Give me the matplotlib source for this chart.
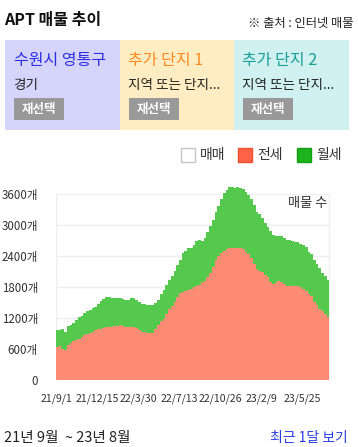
import matplotlib
matplotlib.use("Agg")
import matplotlib.pyplot as plt
import matplotlib.dates as mdates
from matplotlib.patches import Rectangle
import numpy as np
import pandas as pd

plt.rcParams['font.family'] = ['Noto Sans CJK KR', 'DejaVu Sans']

# ---- data ----
start_date = "2021-09-01"
n_weeks = 101
# 전세 (jeonse) listing counts, weekly
jeonse = [640, 650, 610, 590, 680, 720, 750, 780, 800, 830,
          880, 890, 905, 930, 960, 980, 995, 1010, 1020, 1020,
          1025, 1040, 1055, 1060, 1050, 1035, 1020, 1030, 1020, 1000,
          970, 940, 930, 920, 910, 920, 990, 1070, 1140, 1190,
          1280, 1370, 1430, 1520, 1600, 1680, 1700, 1720, 1750, 1760,
          1810, 1820, 1850, 1900, 1920, 2000, 2080, 2200, 2330, 2400,
          2460, 2500, 2540, 2560, 2560, 2560, 2550, 2550, 2530, 2490,
          2440, 2360, 2250, 2160, 2120, 2100, 2040, 2000, 1900, 1870,
          1880, 1910, 1900, 1860, 1830, 1820, 1825, 1820, 1815, 1800,
          1770, 1730, 1660, 1620, 1520, 1460, 1380, 1340, 1280, 1230,
          1210]
# 전세 + 월세 stacked total, weekly
total = [960, 970, 990, 930, 1040, 1070, 1100, 1170, 1220, 1240,
         1300, 1340, 1360, 1390, 1420, 1480, 1540, 1570, 1600, 1610,
         1590, 1585, 1580, 1590, 1570, 1555, 1560, 1580, 1585, 1560,
         1520, 1475, 1470, 1460, 1450, 1460, 1500, 1560, 1660, 1740,
         1850, 1930, 2020, 2120, 2230, 2330, 2470, 2510, 2550, 2560,
         2620, 2700, 2720, 2700, 2750, 2860, 2980, 3100, 3250, 3380,
         3500, 3620, 3690, 3740, 3750, 3730, 3750, 3730, 3700, 3640,
         3590, 3500, 3400, 3260, 3210, 3140, 3050, 2960, 2880, 2810,
         2790, 2800, 2790, 2760, 2720, 2710, 2690, 2680, 2670, 2640,
         2620, 2580, 2490, 2450, 2330, 2240, 2170, 2080, 2020, 1930,
         1880]
wolse = [t - j for t, j in zip(total, jeonse)]
maemae = [0] * n_weeks

y_ticks = [0, 600, 1200, 1800, 2400, 3000, 3600]
y_labels = ["0", "600개", "1200개", "1800개", "2400개", "3000개", "3600개"]
x_tick_dates = ["2021-09-01", "2021-12-15", "2022-03-30", "2022-07-13",
                "2022-10-26", "2023-02-09", "2023-05-25"]
x_tick_labels = ["21/9/1", "21/12/15", "22/3/30", "22/7/13",
                 "22/10/26", "23/2/9", "23/5/25"]
x_end = "2023-08-01"

panels = [
    ("수원시 영통구", "경기", "#2d2de0", "#d5d5fb"),
    ("추가 단지 1", "지역 또는 단지...", "#ff8a1e", "#feedc2"),
    ("추가 단지 2", "지역 또는 단지...", "#159e9a", "#d0f1ef"),
]
legend_items = [("매매", "#ffffff", "#c4c4cc"),
                ("전세", "#ff6347", "#f05030"),
                ("월세", "#1db31d", "#12a012")]

# ---- figure ----
W, H = 358, 447
fig = plt.figure(figsize=(W / 100, H / 100), dpi=100)
fig.patch.set_facecolor("white")

def fx(px):
    return px / W

def fy(py):
    return 1 - py / H

# title
fig.text(fx(4), fy(20), "APT 매물 추이", fontsize=11.5, fontweight="bold",
         color="#111111", va="center", ha="left")
fig.text(fx(353), fy(24), "※ 출처 : 인터넷 매물", fontsize=8.8,
         color="#222222", va="center", ha="right")

# panels
px0 = [5, 120, 234]
pw = [115, 114, 115]
for (t1, t2, tc, bg), x0, w in zip(panels, px0, pw):
    fig.patches.append(Rectangle((fx(x0), fy(130)), fx(w), fy(40) - fy(130),
                                 transform=fig.transFigure, facecolor=bg,
                                 edgecolor="none"))
    fig.text(fx(x0 + 8.5), fy(61), t1, fontsize=11.5, color=tc,
             va="center", ha="left")
    fig.text(fx(x0 + 8.5), fy(85), t2, fontsize=9.8, color="#222222",
             va="center", ha="left")
    fig.patches.append(Rectangle((fx(x0 + 9), fy(120)), fx(50), fy(98) - fy(120),
                                 transform=fig.transFigure, facecolor="#999999",
                                 edgecolor="none"))
    fig.text(fx(x0 + 34), fy(109), "재선택", fontsize=9, color="white",
             fontweight="bold", va="center", ha="center")

# legend
lx = [180, 237, 296]
for (name, fc, ec), x0 in zip(legend_items, lx):
    fig.patches.append(Rectangle((fx(x0 + 0.5), fy(162)), fx(14), fy(148) - fy(162),
                                 transform=fig.transFigure, facecolor=fc,
                                 edgecolor=ec, linewidth=1.0))
    fig.text(fx(x0 + 20), fy(155.5), name, fontsize=10, color="#333333",
             va="center", ha="left")

# chart
ax = fig.add_axes([fx(56), fy(380), fx(329) - fx(56), fy(194.3) - fy(380)])
dates = pd.date_range(start_date, periods=n_weeks, freq="7D")
x = mdates.date2num(dates)
j = np.array(jeonse, dtype=float)
wv = np.array(wolse, dtype=float)
m = np.array(maemae, dtype=float)

ax.fill_between(x, 0, m, step="post", color="#ffffff", linewidth=0, clip_on=False)
ax.fill_between(x, m, m + j, step="post", color="#fe8b73", linewidth=0,
                clip_on=False, zorder=3)
ax.fill_between(x, m + j, m + j + wv, step="post", color="#55c94d",
                linewidth=0, clip_on=False, zorder=3)

ax.set_ylim(0, 3600)
ax.set_xlim(mdates.date2num(pd.Timestamp(start_date)),
            mdates.date2num(pd.Timestamp(x_end)))
ax.set_yticks(y_ticks)
ax.set_yticklabels(y_labels)
ax.set_xticks(mdates.date2num(pd.to_datetime(x_tick_dates)))
ax.set_xticklabels(x_tick_labels)
ax.tick_params(axis="y", length=0, pad=13, labelsize=8.3, labelcolor="#333333")
ax.tick_params(axis="x", length=0, pad=10, labelsize=7.6, labelcolor="#333333")
ax.grid(axis="y", color="#eeeeee", linewidth=1)
ax.set_axisbelow(True)
for s in ["top", "bottom"]:
    ax.spines[s].set_visible(False)
for s in ["left", "right"]:
    ax.spines[s].set_color("#eeeeee")
    ax.spines[s].set_linewidth(1)
ax.text(0.995, 0.985, "매물 수", transform=ax.transAxes, fontsize=9.5,
        color="#333333", ha="right", va="top", zorder=5)

# bottom line
fig.text(fx(4), fy(438), "21년 9월  ~ 23년 8월", fontsize=10.5,
         color="#222222", va="center", ha="left")
fig.text(fx(348), fy(438), "최근 1달 보기", fontsize=10,
         color="#2b3de0", va="center", ha="right")

fig.savefig("out.png", dpi=100)
